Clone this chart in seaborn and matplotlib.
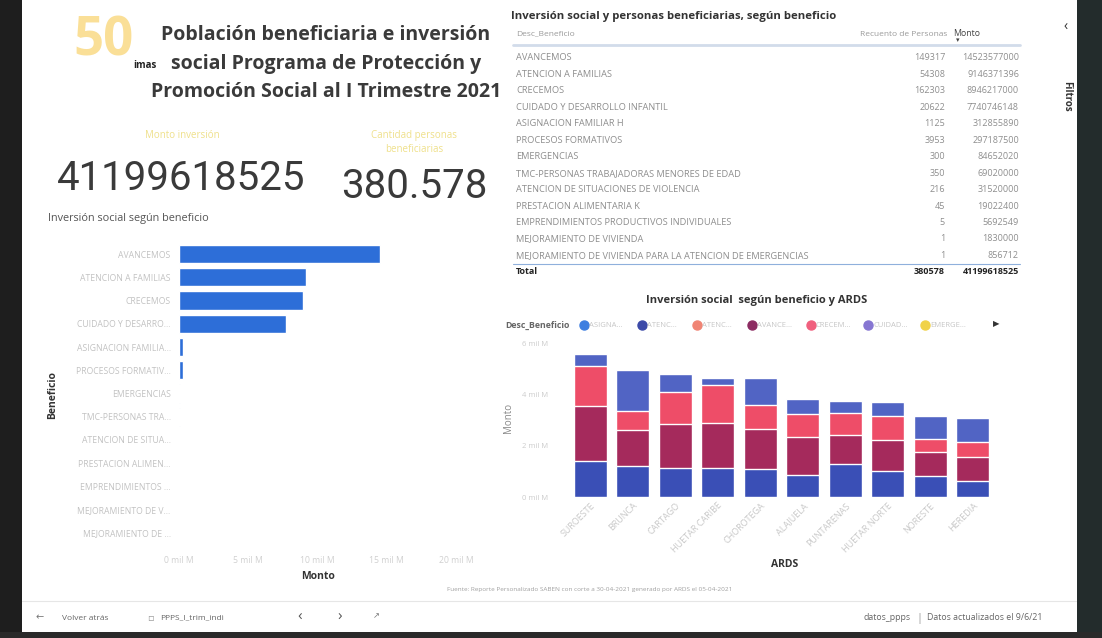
import matplotlib
matplotlib.use("Agg")
import matplotlib.pyplot as plt
import seaborn as sns
import pandas as pd
from matplotlib import font_manager as fm
from matplotlib.patches import Rectangle
from matplotlib.lines import Line2D

W, H = 1102, 638

# ---------------- data ----------------
beneficios = ["AVANCEMOS", "ATENCION A FAMILIAS", "CRECEMOS", "CUIDADO Y DESARROLLO INFANTIL",
              "ASIGNACION FAMILIAR H", "PROCESOS FORMATIVOS", "EMERGENCIAS",
              "TMC-PERSONAS TRABAJADORAS MENORES DE EDAD", "ATENCION DE SITUACIONES DE VIOLENCIA",
              "PRESTACION ALIMENTARIA K", "EMPRENDIMIENTOS PRODUCTIVOS INDIVIDUALES",
              "MEJORAMIENTO DE VIVIENDA", "MEJORAMIENTO DE VIVIENDA PARA LA ATENCION DE EMERGENCIAS"]
personas = [149317, 54308, 162303, 20622, 1125, 3953, 300, 350, 216, 45, 5, 1, 1]
monto = [14523577000, 9146371396, 8946217000, 7740746148, 312855890, 297187500, 84652020,
         69020000, 31520000, 19022400, 5692549, 1830000, 856712]
beneficio_ticks = ["AVANCEMOS", "ATENCION A FAMILIAS", "CRECEMOS", "CUIDADO Y DESARRO...",
                   "ASIGNACION FAMILIA...", "PROCESOS FORMATIV...", "EMERGENCIAS",
                   "TMC-PERSONAS TRA...", "ATENCION DE SITUA...", "PRESTACION ALIMEN...",
                   "EMPRENDIMIENTOS ...", "MEJORAMIENTO DE V...", "MEJORAMIENTO DE ..."]
monto_total = "41199618525"
personas_total = "380578"
personas_kpi = "380.578"
monto_ticks = [0, 5e9, 10e9, 15e9, 20e9]
monto_tick_labels = ["0 mil M", "5 mil M", "10 mil M", "15 mil M", "20 mil M"]

ards = ["SUROESTE", "BRUNCA", "CARTAGO", "HUETAR CARIBE", "CHOROTEGA", "ALAJUELA",
        "PUNTARENAS", "HUETAR NORTE", "NORESTE", "HEREDIA"]
# mil M (thousand millions) per ARDS
atencion_familias_ards = [1.41, 1.21, 1.12, 1.12, 1.08, 0.84, 1.28, 1.01, 0.81, 0.64]
avancemos_ards = [2.15, 1.40, 1.72, 1.76, 1.56, 1.51, 1.13, 1.20, 0.93, 0.91]
crecemos_ards = [1.56, 0.76, 1.24, 1.47, 0.95, 0.87, 0.87, 0.93, 0.51, 0.60]
cuidado_ards = [0.44, 1.59, 0.72, 0.29, 1.05, 0.60, 0.47, 0.57, 0.89, 0.93]
ards_yticks = [0, 2, 4, 6]
ards_ytick_labels = ["0 mil M", "2 mil M", "4 mil M", "6 mil M"]
legend_labels = ["ASIGNA...", "ATENC...", "ATENC...", "AVANCE...", "CRECEM...", "CUIDAD...", "EMERGE..."]
legend_colors = ["#3f7fe0", "#3c4aa8", "#f08474", "#8c2c62", "#f0607e", "#8676d2", "#f0d24a"]

# ---------------- style ----------------
sns.set_theme(style="white")
plt.rcParams["font.family"] = ["Open Sans", "DejaVu Sans"]
names = {f.name for f in fm.fontManager.ttflist}
numfont = "Liberation Sans Narrow" if "Liberation Sans Narrow" in names else "Roboto"
numsize = 33 if numfont == "Liberation Sans Narrow" else 29

fig = plt.figure(figsize=(W / 100, H / 100), dpi=100)
fig.patch.set_facecolor("white")


def T(x, y, s, **kw):
    kw.setdefault("va", "center")
    return fig.text(x / W, 1 - y / H, s, **kw)


def box(l, t, r, b):
    return [l / W, 1 - b / H, (r - l) / W, (b - t) / H]


def hline(x0, x1, y, **kw):
    fig.add_artist(Line2D([x0 / W, x1 / W], [1 - y / H, 1 - y / H], transform=fig.transFigure, **kw))


# ---------------- header / logo ----------------
T(103, 42, "50", fontsize=38, fontweight="bold", color="#f6c542", alpha=0.55, ha="center")
T(145, 66, "imas", fontsize=7, fontweight="bold", color="#222222", ha="center")
title_lines = ["Población beneficiaria e inversión", "social Programa de Protección y",
               "Promoción Social al I Trimestre 2021"]
for yy, line in zip([35, 64, 92], title_lines):
    T(326, yy, line, fontsize=14, fontweight="bold", color="#3a3a3a", ha="center")

# KPI cards
T(182, 135, "Monto inversión", fontsize=7, color="#efe08a", ha="center")
T(414, 135, "Cantidad personas", fontsize=7, color="#efe08a", ha="center")
T(414, 149, "beneficiarias", fontsize=7, color="#efe08a", ha="center")
T(181, 179, monto_total, fontsize=numsize, color="#3a3a3a", ha="center", family=numfont)
T(414, 187, personas_kpi, fontsize=numsize, color="#3a3a3a", ha="center", family=numfont)

# ---------------- left bar chart ----------------
T(48, 218, "Inversión social según beneficio", fontsize=7.8, color="#555555", ha="left")
ax1 = fig.add_axes(box(179, 242.4, 470, 544.6))
df1 = pd.DataFrame({"Beneficio": beneficios, "Monto": monto})
sns.barplot(data=df1, x="Monto", y="Beneficio", orient="h", color="#2d6ed8", saturation=1,
            width=0.78, ax=ax1)
ax1.set_xlim(0, 21e9)
ax1.set_xticks(monto_ticks)
ax1.set_xticklabels(monto_tick_labels, fontsize=6.2, color="#d0d0d0")
ax1.set_yticks(range(len(beneficio_ticks)))
ax1.set_yticklabels(beneficio_ticks, fontsize=6.2, color="#c2c2c2")
ax1.tick_params(axis="x", length=0, pad=8)
ax1.tick_params(axis="y", length=0, pad=6)
for s in ax1.spines.values():
    s.set_visible(False)
ax1.set_xlabel("Monto", fontsize=7.5, fontweight="bold", color="#333333")
ax1.xaxis.set_label_coords((318 - 179) / 291, -(571 - 544.6) / 302.2)
ax1.set_ylabel("Beneficio", fontsize=7.5, fontweight="bold", color="#333333")
ax1.yaxis.set_label_coords(-(179 - 58) / 291, 1 - (395 - 242.4) / 302.2)
ax1.set_facecolor("none")

# ---------------- table ----------------
T(511, 16, "Inversión social y personas beneficiarias, según beneficio", fontsize=8.2,
  fontweight="bold", color="#333333", ha="left")
T(516, 34, "Desc_Beneficio", fontsize=6, color="#9a9a9a", ha="left")
T(947, 34, "Recuento de Personas", fontsize=6, color="#9a9a9a", ha="right")
T(953, 34, "Monto", fontsize=6.3, color="#444444", ha="left")
T(958, 41, "▾", fontsize=5, color="#444444", ha="center")
hline(513, 1020, 45, color="#d2dcea", lw=2)
for i, (b, p, m) in enumerate(zip(beneficios, personas, monto)):
    yy = 58 + i * 16.45
    T(516, yy, b, fontsize=6.7, color="#8e8e8e", ha="left")
    T(945, yy, str(p), fontsize=6.5, color="#8e8e8e", ha="right")
    T(1019, yy, str(m), fontsize=6.5, color="#8e8e8e", ha="right")
hline(513, 1020, 263.5, color="#8fb0dc", lw=0.8)
T(516, 272, "Total", fontsize=6.5, fontweight="bold", color="#222222", ha="left")
T(945, 272, personas_total, fontsize=6.5, fontweight="bold", color="#222222", ha="right")
T(1019, 272, monto_total, fontsize=6.5, fontweight="bold", color="#222222", ha="right")

# ---------------- stacked ARDS chart ----------------
T(757, 300, "Inversión social  según beneficio y ARDS", fontsize=8, fontweight="bold",
  color="#333333", ha="center")
T(505, 325, "Desc_Beneficio", fontsize=6.3, fontweight="bold", color="#666666", ha="left")
for cx, lab, col in zip([584, 642, 697, 752, 811, 868, 925], legend_labels, legend_colors):
    fig.add_artist(Line2D([cx / W], [1 - 325 / H], marker="o", markersize=6.5, color=col,
                          linestyle="none", transform=fig.transFigure))
    T(cx + 5, 325, lab, fontsize=5.5, color="#c6c6c6", ha="left")
T(996, 325, "▶", fontsize=6, color="#333333", ha="center")

ax2 = fig.add_axes(box(569, 343, 994, 497))
df2 = pd.DataFrame({"ARDS": ards, "fam": atencion_familias_ards, "ava": avancemos_ards,
                    "cre": crecemos_ards, "cui": cuidado_ards})
df2["c1"] = df2["fam"]
df2["c2"] = df2["c1"] + df2["ava"]
df2["c3"] = df2["c2"] + df2["cre"]
df2["c4"] = df2["c3"] + df2["cui"]
for col, color in [("c4", "#5164c4"), ("c3", "#ee4d68"), ("c2", "#a52a5c"), ("c1", "#3a4fb6")]:
    sns.barplot(data=df2, x="ARDS", y=col, order=ards, color=color, saturation=1,
                width=0.78, ax=ax2)
ax2.set_ylim(0, 6)
ax2.set_yticks(ards_yticks)
ax2.set_yticklabels(ards_ytick_labels, fontsize=5.5, color="#cccccc")
ax2.set_xticks(range(len(ards)))
ax2.set_xticklabels(ards, rotation=45, ha="right", rotation_mode="anchor", fontsize=6.5,
                    color="#c8c8c8")
ax2.tick_params(axis="x", length=0, pad=3)
ax2.tick_params(axis="y", length=0, pad=15)
for s in ax2.spines.values():
    s.set_visible(False)
ax2.set_facecolor("none")
ax2.set_xlabel("ARDS", fontsize=7.5, fontweight="bold", color="#333333")
ax2.xaxis.set_label_coords((785 - 569) / 425, -(559 - 497) / 154)
ax2.set_ylabel("Monto", fontsize=7, color="#888888")
ax2.yaxis.set_label_coords(-(569 - 514) / 425, (497 - 418) / 154)

T(590, 590, "Fuente: Reporte Personalizado SABEN con corte a 30-04-2021 generado por ARDS el 05-04-2021",
  fontsize=4.6, color="#a0a0a0", ha="center")

# ---------------- frame / navigation ----------------
hline(22, 1077, 601, color="#e6e6e6", lw=0.8)
T(36, 618, "←", fontsize=7, color="#777777", ha="left")
T(62, 618, "Volver atrás", fontsize=6, color="#666666", ha="left")
T(147, 618, "▫", fontsize=7, color="#999999", ha="left")
T(160, 618, "PPPS_I_trim_indi", fontsize=6, color="#666666", ha="left")
T(300, 617, "‹", fontsize=11, color="#555555", ha="center")
T(340, 617, "›", fontsize=11, color="#555555", ha="center")
T(376, 617, "↗", fontsize=6, color="#777777", ha="center")
T(911, 618, "datos_ppps", fontsize=6.3, color="#666666", ha="right")
T(919, 618, "|", fontsize=8, color="#999999", ha="center")
T(927, 618, "Datos actualizados el 9/6/21", fontsize=6.3, color="#666666", ha="left")

T(1066, 27, "‹", fontsize=10, color="#333333", ha="center")
T(1067, 96, "Filtros", fontsize=7, fontweight="bold", color="#333333", ha="center",
  rotation=270)

for rect, col in [((0, 0, 22, H), "#1e1e1e"), ((1077, 0, 25, H), "#232c2c"),
                  ((0, 632, W, 6), "#2a2a2a")]:
    x0, y0, w, h = rect
    fig.add_artist(Rectangle((x0 / W, 1 - (y0 + h) / H), w / W, h / H, transform=fig.transFigure,
                             facecolor=col, edgecolor="none", zorder=20))

fig.savefig("out.png", dpi=100)
